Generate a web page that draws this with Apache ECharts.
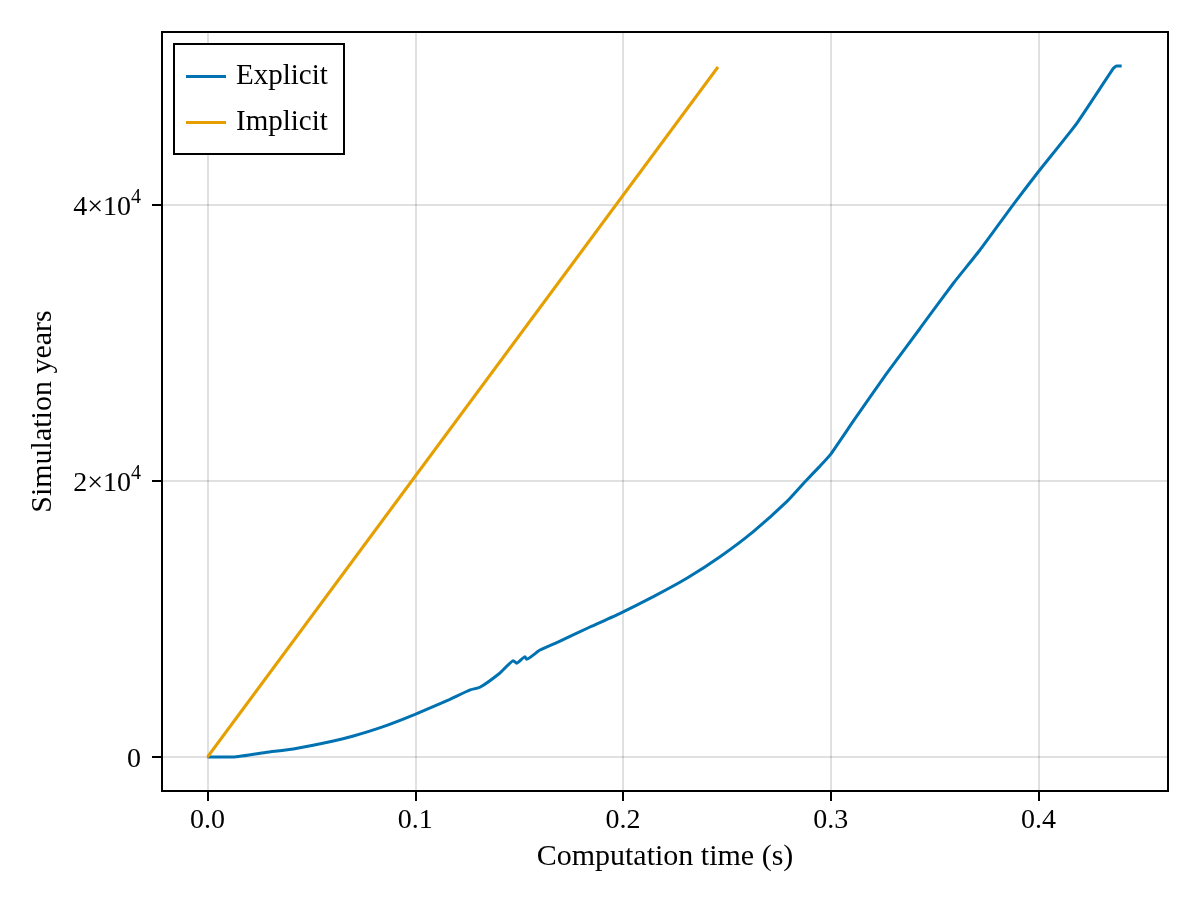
<!DOCTYPE html>
<html>
<head>
<meta charset="utf-8">
<script src="https://cdn.jsdelivr.net/npm/echarts@6/dist/echarts.min.js"></script>
<style>html,body{margin:0;padding:0;background:#fff}#c{width:1200px;height:900px}</style>
</head>
<body>
<div id="c"></div>
<script>
const explicitTime = [0, 0.0124, 0.0285, 0.0413, 0.0606, 0.0702, 0.0846, 0.0999, 0.1167, 0.1264, 0.1311, 0.1408, 0.1472, 0.1488, 0.1528, 0.1536, 0.1600, 0.1689, 0.1841, 0.1986, 0.2146, 0.2307, 0.2467, 0.2627, 0.2788, 0.2876, 0.2948, 0.3000, 0.3109, 0.3269, 0.3430, 0.3590, 0.3718, 0.3879, 0.3999, 0.4184, 0.4360, 0.4376, 0.4400];
const explicitYears = [0, 0, 340, 580, 1160, 1520, 2200, 3090, 4180, 4860, 5050, 6090, 6980, 6790, 7270, 7080, 7750, 8350, 9420, 10410, 11620, 12950, 14510, 16330, 18500, 19950, 21080, 21950, 24350, 27800, 31070, 34330, 36740, 40050, 42410, 45920, 49900, 50070, 50070];
const implicitTime = [0, 0.2457];
const implicitYears = [0, 50000];
const xTickValues = [0, 0.1, 0.2, 0.3, 0.4];
const xTickLabels = ['0.0', '0.1', '0.2', '0.3', '0.4'];
const yTickValues = [0, 20000, 40000];
const yTickLabels = ['0', '2×10⁴', '4×10⁴'];

const FONT = 'Liberation Serif';
function findLabel(v, vals, labels) {
  for (let i = 0; i < vals.length; i++) if (Math.abs(v - vals[i]) < 1e-9 * Math.max(1, Math.abs(vals[i]))) return labels[i];
  return '';
}
const chart = echarts.init(document.getElementById('c'), null, {renderer: 'canvas'});
chart.setOption({
  animation: false,
  backgroundColor: '#fff',
  grid: {left: 162, right: 32, top: 32, bottom: 109, show: true, borderColor: '#000', borderWidth: 2, backgroundColor: 'transparent'},
  legend: {
    orient: 'vertical', left: 174, top: 44,
    padding: [18, 14, 17, 12],
    itemGap: 17, itemWidth: 40, itemHeight: 28,
    borderColor: '#000', borderWidth: 2, backgroundColor: '#fff',
    textStyle: {fontFamily: FONT, fontSize: 29, color: '#000', padding: [0, 0, 0, 5], width: 94, lineHeight: 28},
    data: [{name: 'Explicit', icon: 'path://M0,0 L40,0 L40,3 L0,3 Z'}, {name: 'Implicit', icon: 'path://M0,0 L40,0 L40,3 L0,3 Z'}]
  },
  xAxis: {
    type: 'value', min: -0.0219, max: 0.4623, splitNumber: 5,
    name: 'Computation time (s)', nameLocation: 'middle', nameGap: 51,
    nameTextStyle: {fontFamily: FONT, fontSize: 30, color: '#000'},
    axisLine: {show: true, onZero: false, lineStyle: {color: '#000', width: 2}},
    axisTick: {show: true, customValues: xTickValues, length: 10, lineStyle: {color: '#000', width: 2}},
    axisLabel: {customValues: xTickValues, formatter: v => findLabel(v, xTickValues, xTickLabels), fontFamily: FONT, fontSize: 28, color: '#000', margin: 16},
    splitLine: {show: true, lineStyle: {color: 'rgba(0,0,0,0.12)', width: 2}}
  },
  yAxis: {
    type: 'value', min: -2464, max: 52536, splitNumber: 3,
    name: 'Simulation years', nameLocation: 'middle', nameGap: 104,
    nameTextStyle: {fontFamily: FONT, fontSize: 30, color: '#000'},
    axisLine: {show: true, onZero: false, lineStyle: {color: '#000', width: 2}},
    axisTick: {show: true, customValues: yTickValues, length: 10, lineStyle: {color: '#000', width: 2}},
    axisLabel: {
      customValues: yTickValues,
      formatter: v => { const s = findLabel(v, yTickValues, yTickLabels); return s ? '{b|' + s.replace('⁴', '}{s|4') + '}' : ''; },
      margin: 21,
      rich: {
        b: {fontFamily: FONT, fontSize: 28, color: '#000', lineHeight: 34, verticalAlign: 'bottom'},
        s: {fontFamily: FONT, fontSize: 20, color: '#000', lineHeight: 20, verticalAlign: 'top'}
      }
    },
    splitLine: {show: true, lineStyle: {color: 'rgba(0,0,0,0.12)', width: 2}}
  },
  series: [
    {name: 'Explicit', type: 'line', symbol: 'none', smooth: 0.15, color: '#0072B2', lineStyle: {width: 3, color: '#0072B2'},
     data: explicitTime.map((t, i) => [t, explicitYears[i]])},
    {name: 'Implicit', type: 'line', symbol: 'none', color: '#E69F00', lineStyle: {width: 3, color: '#E69F00'},
     data: implicitTime.map((t, i) => [t, implicitYears[i]])}
  ]
});
</script>
</body>
</html>
